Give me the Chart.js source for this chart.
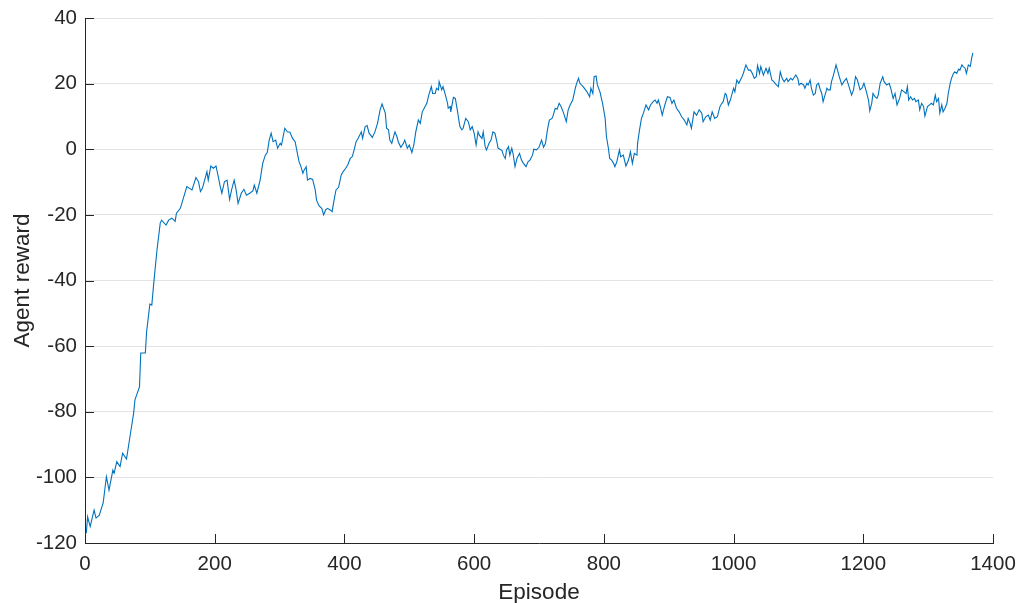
<!DOCTYPE html>
<html>
<head>
<meta charset="utf-8">
<title>Agent reward</title>
<script src="https://cdn.jsdelivr.net/npm/chart.js@4.4.1/dist/chart.umd.min.js"></script>
<style>
  html, body { margin: 0; padding: 0; background: #fff; }
  #wrap { width: 1019px; height: 603px; position: relative; }
</style>
</head>
<body>
<div id="wrap"><canvas id="rewardChart"></canvas></div>
<script>
// episode numbers and the reward logged at each of them
const episodes = [
  2, 4, 8, 14, 17, 22, 28, 33, 37, 43, 45, 49, 54, 58, 64, 69, 75, 77, 84, 86,
  93, 95, 100, 103, 106, 111, 116, 118, 125, 129, 134, 139, 141,
  147, 157, 165, 171, 175, 178, 181, 188, 190, 194, 198, 202, 206, 208, 211, 215, 219,
  223, 226, 230, 233, 236, 241, 245, 249, 254, 259, 261, 265, 270, 274, 278, 281, 284, 287,
  290, 294, 297, 301, 303, 308, 312, 316, 320, 324, 327, 330, 333, 336, 338, 341, 343, 347,
  351, 355, 357, 361, 365, 368, 371, 374, 378, 381, 384, 387, 391, 395, 398, 402, 405, 409,
  412, 415, 418, 421, 426, 428, 432, 435, 438, 443, 447, 451, 455,
  458, 463, 465, 468, 470, 473, 475, 478, 481, 483, 487, 491, 493, 497, 500, 504, 507, 510,
  514, 517, 520, 523, 527, 530, 534, 536, 540, 542, 545, 546, 550, 552, 555, 559, 560, 563,
  564, 568, 571, 574, 578, 581, 583, 587, 591, 594, 597, 600, 603, 606, 608, 612, 614, 617,
  619, 623, 626, 629, 632, 635, 637, 640, 643, 645, 648, 650, 653, 655, 658, 660, 663, 666,
  670, 673, 676, 680, 683, 686, 690, 692, 696, 700,
  704, 707, 710, 713, 716, 720, 722, 725, 728, 731, 734, 738, 742, 745, 748, 752, 756, 758,
  761, 763, 768, 774, 778, 780, 783, 785, 788, 790, 794, 798, 802, 804, 807, 809, 812, 815,
  817, 820, 824, 826, 830, 834, 838, 841, 844, 847, 851, 852, 855, 858, 861, 865, 869, 872,
  876, 879, 882, 884, 887, 890, 894, 898, 902, 905, 908, 912, 916, 920, 924, 928, 930, 933,
  935, 939, 943, 947, 951, 953, 957, 961, 964, 967, 971, 975, 979, 982, 984, 987, 989, 992,
  995, 1000, 1002, 1005, 1008,
  1013, 1015, 1019, 1023, 1026, 1029, 1032, 1035, 1037, 1040, 1042, 1046, 1050, 1053, 1055,
  1059, 1062, 1066, 1069, 1072, 1075, 1078, 1082, 1084, 1088, 1091, 1094, 1096, 1099, 1101,
  1104, 1108, 1110, 1113, 1115, 1118, 1120, 1123, 1126, 1128, 1131, 1133, 1136, 1138, 1141,
  1144, 1146, 1149, 1151, 1154, 1156, 1158, 1161, 1163,
  1167, 1170, 1174, 1178, 1182, 1185, 1188, 1191, 1195, 1198, 1201, 1204, 1208, 1210, 1213,
  1215, 1218, 1221, 1223, 1226, 1230, 1232, 1236, 1240, 1243, 1246, 1249, 1252, 1256, 1259,
  1263, 1266, 1268, 1270, 1273, 1276, 1279, 1281, 1285, 1287, 1290, 1293, 1295, 1299, 1302,
  1305, 1308, 1311, 1313, 1316, 1318, 1321, 1323, 1326, 1329, 1331, 1334, 1336, 1339, 1341,
  1344, 1347, 1349, 1352, 1354, 1357, 1359, 1362, 1365, 1367, 1369
];

const reward = [
  -117, -112, -115, -110, -112.4, -111.5, -107.8, -99.8, -103.9, -97.8, -98.7, -95.2, -96.7, -92.6, -94.4, -88, -80.4, -76.4, -72.4, -62.1,
  -62.1, -55.6, -47.2, -47.5, -40.8, -30.7, -22.5, -21.6, -23.1, -21.6, -21, -22, -19.5,
  -18, -11.4, -12.4, -8.6, -9.9, -12.9, -11.9, -6.8, -9.4, -5.1, -5.8, -5.1, -8.9, -10.9, -13.4, -9.9, -9.4,
  -15.3, -12.4, -9.4, -12.4, -16.5, -13.4, -12.2, -14, -13.4, -12.6, -10.9, -13.4, -9.4, -4.3, -1.8, -1, 2.8, 4.9,
  2.3, 2.8, 0.3, 1.8, 1.3, 6.4, 5.3, 5.2, 3.3, 2.3, -0.8, -3.8, -5.3, -7.3, -6.3, -5.3, -9.4, -8.9,
  -9.2, -12.4, -15.5, -17.3, -18, -20, -18.5, -18, -18.5, -19, -15.5, -12.4, -11.6, -7.9, -6.8, -5.8, -4.8, -2.8,
  -2.3, -0.2, 2.3, 3.3, 5.3, 3.3, 6.9, 7.2, 4.9, 3.6, 5.3, 7.9, 12,
  13.8, 11, 6.4, 5.9, 2.8, 1.8, 3.3, 5.3, 3.8, 2.3, 0.6, 1.8, 2.8, 0.3, 1.3, -1, 1.3, 5.3,
  8.9, 7.9, 11.4, 12.5, 14, 16.5, 19.1, 17, 17, 18.6, 18.1, 20.6, 18.1, 19.1, 17, 14, 12.5, 13,
  11.4, 15.8, 15.5, 12, 6.9, 5.9, 6.4, 9.4, 8.4, 5.9, 6.9, 4.9, 1.3, 5.3, 4.3, 3.3, 5.3, 0.8,
  -0.2, 1.8, 2.8, 5.3, 4.9, 2.3, 0.3, 0, -0.4, -1.8, -2.8, -0.2, 0.8, -1.8, 0.3, -1.3, -5.3, -2.8,
  -1.3, -3.3, -4.3, -5.3, -3.8, -3.3, -1.8, 0, -0.2, 0.6,
  2.8, 0.6, 1.8, 5.9, 8.9, 9.4, 10.4, 12.5, 12.2, 14, 13, 11, 8.4, 12, 13.5, 15, 18.6, 20.1,
  21.6, 20.1, 19.1, 17.5, 16, 18.6, 17, 22.1, 22.3, 19.6, 17.5, 14, 9.4, 3.8, 0.3, -2.8, -3.3, -4.3,
  -5.3, -3.8, -0.2, -2.3, -1.8, -5.1, -3.3, -0.8, -4.3, -1.3, -1.8, 1.8, 5.9, 9.4, 11, 13.5, 12, 13.5,
  14.5, 15, 14, 15, 13, 10.4, 13.5, 16, 15.8, 14, 15, 12.5, 11.4, 9.9, 8.9, 7.4, 9.4, 7.9,
  6.4, 11.4, 10.4, 12, 11, 8.4, 9.9, 10.4, 8.9, 11.4, 9.4, 9.9, 13, 14, 14.5, 17, 16.5, 13.5,
  15, 18.6, 17.5, 21.1, 20.1,
  22.1, 23.1, 25.7, 24.1, 24.1, 23.1, 21.6, 22.1, 25.5, 23.1, 25.2, 22.6, 24.7, 23.1, 24.7,
  21.1, 20.6, 19.6, 19.1, 23.6, 21.6, 20.6, 21.6, 20.6, 21.6, 21.1, 22.1, 22.6, 21.6, 19.6,
  20.1, 19.6, 18.6, 20.1, 19.6, 21.1, 18.6, 16.5, 17, 19.6, 20.1, 18.6, 17, 14.5, 16.5,
  18.6, 18.1, 18.1, 20.6, 22.6, 24.1, 25.7, 23.6, 22.1,
  19.6, 20.6, 21.6, 19.1, 16.5, 18.1, 22.1, 21.1, 18.1, 18.6, 20.1, 18.1, 15, 11.7, 14,
  17, 16, 15.5, 16.5, 20.1, 22.1, 20.6, 19.6, 20.1, 18.1, 15.5, 17, 13.5, 15.5, 18.1,
  17.5, 17, 19.1, 15, 16, 15, 15.5, 14.5, 15, 12, 14, 13, 10.1, 13, 13.5,
  14, 13.5, 16.5, 14.5, 15.5, 11, 13.5, 11.4, 12.5, 14, 17, 20.1, 21.6, 23.1, 23.6,
  23.1, 24.4, 24.1, 25.7, 25.2, 24.7, 23.1, 25.7, 25.2, 27.7, 29.4
];

// axis limits and tick spacing
const xRange = [0, 1400];
const xStep = 200;
const yRange = [-120, 40];
const yStep = 20;

const INK = '#262626';
const FONT = '"Liberation Sans", Arial, Helvetica, sans-serif';

// short tick marks drawn inside the plot box
const innerTicks = {
  id: 'innerTicks',
  afterDraw(chart) {
    const { ctx, chartArea, scales } = chart;
    const len = 9;
    ctx.save();
    ctx.strokeStyle = INK;
    ctx.lineWidth = 1;
    ctx.beginPath();
    scales.x.ticks.forEach((t, i) => {
      const px = Math.round(scales.x.getPixelForTick(i)) + 0.5;
      ctx.moveTo(px, chartArea.bottom);
      ctx.lineTo(px, chartArea.bottom - len);
    });
    scales.y.ticks.forEach((t, i) => {
      const py = Math.round(scales.y.getPixelForTick(i)) + 0.5;
      ctx.moveTo(chartArea.left, py);
      ctx.lineTo(chartArea.left + len, py);
    });
    ctx.stroke();
    ctx.restore();
  }
};

const points = episodes.map((ep, i) => ({ x: ep, y: reward[i] }));

new Chart(document.getElementById('rewardChart'), {
  type: 'line',
  data: {
    datasets: [{
      label: 'Agent reward',
      data: points,
      borderColor: '#0072BD',
      borderWidth: 1.1,
      pointRadius: 0,
      tension: 0,
      fill: false
    }]
  },
  options: {
    responsive: true,
    maintainAspectRatio: false,
    animation: false,
    layout: { padding: { top: 18, right: 26, left: 0, bottom: 0 } },
    plugins: { legend: { display: false }, tooltip: { enabled: false } },
    scales: {
      x: {
        type: 'linear',
        min: xRange[0],
        max: xRange[1],
        // fixed axis band; edge labels may hang into the layout padding
        afterFit(scale) {
          scale.height = 60;
          scale.paddingLeft = 0;
          scale.paddingRight = 0;
        },
        grid: { display: false, drawTicks: false },
        border: { display: true, color: INK, width: 1 },
        ticks: {
          stepSize: xStep,
          color: INK,
          padding: 9,
          maxRotation: 0,
          callback: v => String(v),
          font: { family: FONT, size: 20.5 }
        },
        title: {
          display: true,
          text: 'Episode',
          color: INK,
          padding: { top: 0, bottom: 0 },
          font: { family: FONT, size: 22.5, lineHeight: 0.95 }
        }
      },
      y: {
        min: yRange[0],
        max: yRange[1],
        afterFit(scale) {
          scale.width = 85;
          scale.paddingTop = 0;
          scale.paddingBottom = 0;
        },
        grid: { color: '#e3e3e3', lineWidth: 1, drawTicks: false },
        border: { display: true, color: INK, width: 1 },
        ticks: {
          stepSize: yStep,
          color: INK,
          padding: 8,
          callback: v => String(v),
          font: { family: FONT, size: 20.5 }
        },
        title: {
          display: true,
          text: 'Agent reward',
          color: INK,
          padding: { top: 12, bottom: 0 },
          font: { family: FONT, size: 22.5, lineHeight: 1 }
        }
      }
    }
  },
  plugins: [innerTicks]
});
</script>
</body>
</html>
